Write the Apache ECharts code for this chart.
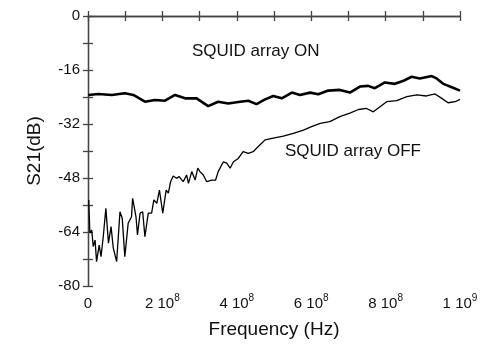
<!DOCTYPE html>
<html>
<head>
<meta charset="utf-8">
<script src="https://cdn.jsdelivr.net/npm/echarts@6/dist/echarts.min.js"></script>
<style>
  html, body { margin: 0; padding: 0; background: #fff; }
  #main { width: 497px; height: 344px; }
</style>
</head>
<body>
<div id="main"></div>
<script>
// frequency in MHz, S21 in dB
var onFreq = [1, 28, 64, 99, 122, 153, 180, 207, 234, 261, 292, 323, 350, 377, 409, 431, 453, 476,
  498, 521, 548, 570, 597, 619, 646, 677, 704, 731, 753, 771, 798, 825, 848, 870, 892, 924, 937, 955, 978, 1000];
var onDb = [-23.4, -23.1, -23.4, -22.9, -23.4, -25.4, -24.9, -25.1, -23.4, -24.4, -24.4, -26.7, -25.4, -25.9, -25.4, -25.1, -26.1, -24.7,
  -23.7, -24.4, -22.7, -23.4, -22.7, -23.2, -22.1, -21.9, -22.7, -20.9, -20.7, -21.4, -19.7, -20.1, -19.2, -18, -18.5, -17.8, -18.5, -20.1, -21.1, -22.1];

var offFreq = [2, 5, 10, 14, 19, 23, 30, 35, 41, 48, 55, 62, 68, 77, 86, 92, 99, 108, 117, 120,
  129, 133, 140, 147, 153, 162, 171, 177, 185, 192, 201, 210, 216, 222, 229, 238, 245, 256, 265,
  270, 279, 288, 295, 301, 310, 319, 333, 343, 350, 364, 373, 382, 391, 404, 417, 431, 444, 453,
  462, 476, 498, 525, 552, 579, 601, 624, 650, 677, 704, 727, 749, 767, 785, 803, 830, 857, 884,
  910, 933, 951, 968, 987, 1000];
var offDb = [-54.5, -64.3, -63.4, -68.3, -66.4, -72.8, -67.9, -71.3, -65.4, -57, -67.3, -62.4, -68.8, -72.8, -58, -59.9, -71.3, -61.4, -59.5, -54,
  -59.5, -64.9, -58.4, -58, -65.4, -58.4, -58.4, -54.5, -55.5, -51.6, -58.4, -51.6, -52.5, -49.1, -47.4, -48.1, -47.6, -49.1, -47.1,
  -49.6, -46.1, -48.6, -45.1, -46.1, -47.1, -49.1, -48.6, -48.6, -46.1, -43.2, -43.6, -45.1, -43.2, -42.2, -40.2, -40.7, -40.2, -39.2,
  -38.2, -36.7, -36.2, -35.6, -34.8, -33.8, -32.8, -31.8, -31.3, -29.8, -28.8, -27.7, -27.4, -28.4, -26.9, -25.4, -25.1, -23.9, -23.4,
  -23.7, -23.1, -24.4, -25.7, -25.4, -24.7];

var yTicks = [0, -16, -32, -48, -64, -80];
var xTicks = [0, 2e8, 4e8, 6e8, 8e8, 1e9];

function pairs(f, d) {
  var out = [];
  for (var i = 0; i < f.length; i++) out.push([f[i] * 1e6, d[i]]);
  return out;
}

// "2 10^8" style labels, only on the labelled ticks
function sciLabel(v) {
  var hit = false;
  xTicks.forEach(function (t) { if (Math.abs(t - v) < 1) hit = true; });
  if (!hit) return '';
  if (v === 0) return '{m|0}';
  var e = Math.floor(Math.log10(v) + 1e-9);
  var m = Math.round(v / Math.pow(10, e));
  return '{m|' + m + ' 10}{s|' + e + '}';
}

var axisCol = '#444';
var font = 'Liberation Sans, Arial, sans-serif';
var tickStyle = { color: axisCol, width: 1.3 };

var chart = echarts.init(document.getElementById('main'));
chart.setOption({
  animation: false,
  grid: { left: 88, right: 37, top: 16, bottom: 58 },
  xAxis: [{
    type: 'value', min: 0, max: 1e9, interval: 1e8, position: 'bottom',
    name: 'Frequency (Hz)', nameLocation: 'middle', nameGap: 34,
    nameTextStyle: { fontFamily: font, fontSize: 19, color: '#111' },
    axisLine: { show: true, lineStyle: tickStyle },
    axisTick: { show: true, inside: true, length: 5, lineStyle: tickStyle },
    splitLine: { show: false },
    axisLabel: {
      margin: 7, formatter: sciLabel, color: '#111', showMinLabel: true, showMaxLabel: true,
      rich: {
        m: { fontFamily: font, fontSize: 15, lineHeight: 18, verticalAlign: 'bottom', color: '#111' },
        s: { fontFamily: font, fontSize: 10, lineHeight: 10, verticalAlign: 'top', color: '#111' }
      }
    }
  }, {
    type: 'value', min: 0, max: 1e9, interval: 1e8, position: 'top',
    axisLine: { show: true, lineStyle: tickStyle },
    axisTick: { show: true, inside: true, length: 5, lineStyle: tickStyle },
    axisLabel: { show: false },
    splitLine: { show: false }
  }],
  yAxis: [{
    type: 'value', min: -80, max: 0, interval: 8, position: 'left',
    name: 'S21(dB)', nameLocation: 'middle', nameGap: 44, nameRotate: 90,
    nameTextStyle: { fontFamily: font, fontSize: 19, color: '#111' },
    axisLine: { show: true, lineStyle: tickStyle },
    axisTick: { show: true, inside: true, length: 5, lineStyle: tickStyle },
    splitLine: { show: false },
    axisLabel: {
      margin: 8, fontFamily: font, fontSize: 15, color: '#111',
      formatter: function (v) { return yTicks.indexOf(v) >= 0 ? String(v) : ''; }
    }
  }, {
    type: 'value', min: -80, max: 0, interval: 8, position: 'right',
    axisLine: { show: true, lineStyle: tickStyle },
    axisTick: { show: true, inside: true, length: 5, lineStyle: tickStyle },
    axisLabel: { show: false },
    splitLine: { show: false }
  }],
  series: [{
    name: 'SQUID array ON', type: 'line', xAxisIndex: 0, yAxisIndex: 0,
    showSymbol: false, data: pairs(onFreq, onDb),
    lineStyle: { color: '#000', width: 2.6 }
  }, {
    name: 'SQUID array OFF', type: 'line', xAxisIndex: 0, yAxisIndex: 0,
    showSymbol: false, data: pairs(offFreq, offDb),
    lineStyle: { color: '#000', width: 1.3 }
  }],
  graphic: [{
    type: 'text', left: 192, top: 43,
    style: { text: 'SQUID array ON', font: '17px ' + font, fill: '#111' }
  }, {
    type: 'text', left: 285, top: 143,
    style: { text: 'SQUID array OFF', font: '17px ' + font, fill: '#111' }
  }]
});
</script>
</body>
</html>
